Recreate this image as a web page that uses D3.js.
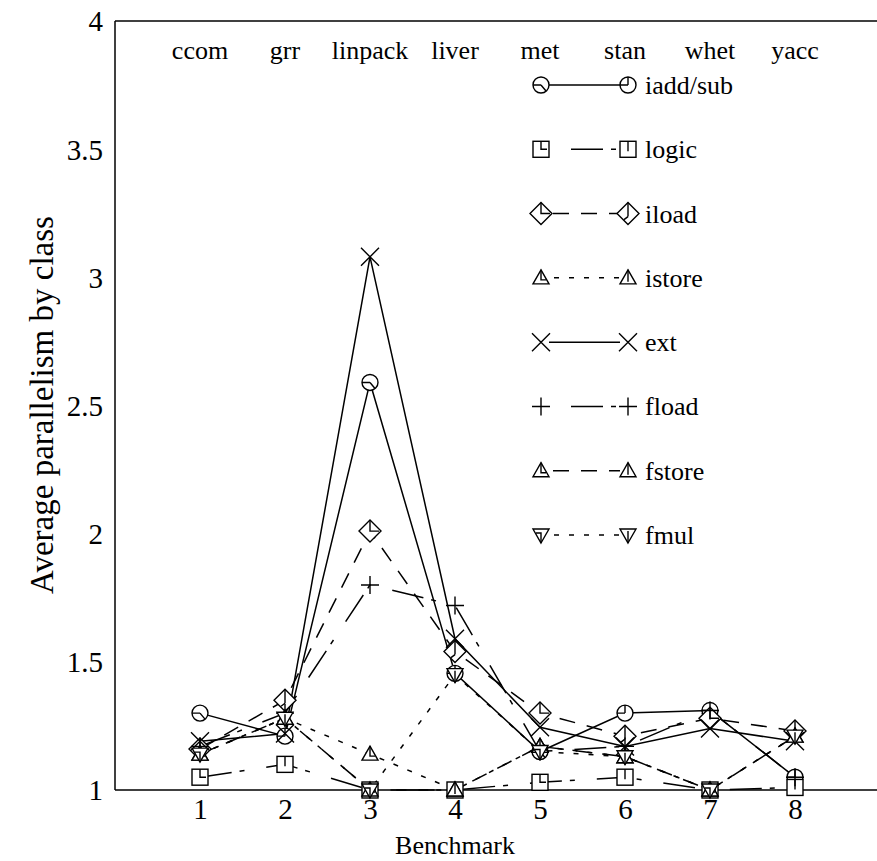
<!DOCTYPE html>
<html><head><meta charset="utf-8">
<script src="https://cdn.jsdelivr.net/npm/d3@7"></script>
<style>body{margin:0;background:#fff}svg{display:block}svg text{fill:#000}</style>
</head><body><svg id="c" width="877" height="861"></svg>
<script>
const benchmarks = [1,2,3,4,5,6,7,8];
const benchNames = ["ccom","grr","linpack","liver","met","stan","whet","yacc"];
const yTicks = [1,1.5,2,2.5,3,3.5,4];
const seriesNames = ["iadd/sub","logic","iload","istore","ext","fload","fstore","fmul"];
const iaddSub = [1.30,1.21,2.59,1.455,1.15,1.30,1.31,1.05];
const logic   = [1.05,1.10,1.00,1.00,1.03,1.05,1.00,1.01];
const iload   = [1.16,1.35,2.01,1.54,1.30,1.21,1.28,1.23];
const istore  = [1.14,1.28,1.14,1.00,1.17,1.13,1.00,1.21];
const ext     = [1.19,1.22,3.08,1.59,1.245,1.17,1.24,1.19];
const fload   = [1.17,1.30,1.80,1.72,1.15,1.17,1.31,1.05];
const fstore  = [1.14,1.28,1.00,1.00,1.17,1.13,1.00,1.21];
const fmul    = [1.14,1.28,1.00,1.45,1.15,1.13,1.00,1.21];
const seriesValues = [iaddSub,logic,iload,istore,ext,fload,fstore,fmul];
const markerTypes = ["circle","square","diamond","triangle","x","plus","triangle","triangleDown"];
const dashStyles = ["none","32,8,5,22","16,12","5,10","none","32,8,5,22","16,12","5,10"];
const legendOffsets = [0,45,-4,-5,0,45,-4,-5];

const FONT = "'Liberation Serif','Times New Roman',Times,serif";
const svg = d3.select("#c").attr("font-family", FONT);
const x = d3.scaleLinear().domain([0,9]).range([115,880]);
const y = d3.scaleLinear().domain([1,4]).range([790,21]);

// frame
svg.append("line").attr("x1",115).attr("x2",877).attr("y1",y(4)).attr("y2",y(4)).attr("stroke","#000").attr("stroke-width",1.5);
svg.append("line").attr("x1",115).attr("x2",115).attr("y1",y(4)).attr("y2",y(1)).attr("stroke","#000").attr("stroke-width",1.5);
svg.append("line").attr("x1",115).attr("x2",877).attr("y1",y(1)).attr("y2",y(1)).attr("stroke","#000").attr("stroke-width",1.5);

// axes labels (no tick marks)
const yAxis = d3.axisLeft(y).tickValues(yTicks).tickSize(0).tickPadding(12).tickFormat(d3.format("~g"));
const gy = svg.append("g").attr("transform","translate(115,0)").call(yAxis).attr("font-family",FONT).attr("font-size",29);
gy.select(".domain").remove();
gy.selectAll("text").attr("dy","0.34em");
const xAxis = d3.axisBottom(x).tickValues(benchmarks).tickSize(0).tickPadding(8).tickFormat(d3.format("d"));
const gx = svg.append("g").attr("transform","translate(0,790)").call(xAxis).attr("font-family",FONT).attr("font-size",29);
gx.select(".domain").remove();

svg.append("text").attr("x",455).attr("y",854).attr("text-anchor","middle").attr("font-size",26).text("Benchmark");
svg.append("text").attr("transform","translate(53,405) rotate(-90)").attr("text-anchor","middle").attr("font-size",33).text("Average parallelism by class");

// benchmark names
svg.selectAll("text.bn").data(benchNames).enter().append("text").attr("class","bn")
  .attr("x",(d,i)=>x(benchmarks[i])).attr("y",59).attr("text-anchor","middle").attr("font-size",26).text(d=>d);

function marker(g, type, cx, cy, flip){
  const s = g.append("g").attr("transform",`translate(${cx},${cy})`).attr("fill","none").attr("stroke","#000").attr("stroke-width",1.4);
  if(type==="circle"){
    s.append("circle").attr("r",8).attr("fill","#fff");
    s.append("path").attr("d", flip ? "M0,0V-8M0,0H-8" : "M0,0H-8M0,0L5,6");
  } else if(type==="square"){
    s.append("rect").attr("x",-8).attr("y",-8).attr("width",16).attr("height",16).attr("fill","#fff");
    s.append("path").attr("d", flip ? "M0,-8V2" : "M0,-8V0H6");
  } else if(type==="diamond"){
    s.append("path").attr("d","M0,-11L11,0L0,11L-11,0Z").attr("fill","#fff");
    s.append("path").attr("d", flip ? "M0,-11V3M0,3L-4,6" : "M0,-11V0H9");
  } else if(type==="triangle"){
    s.append("path").attr("d","M0,-8L8,6H-8Z").attr("fill","#fff");
    s.append("path").attr("d", flip ? "M0,-8V4" : "M0,-8V2H5");
  } else if(type==="triangleDown"){
    s.append("path").attr("d","M0,8L8,-6H-8Z").attr("fill","#fff");
    s.append("path").attr("d", flip ? "M0,8V-4" : "M0,8V-2H-5");
  } else if(type==="x"){
    s.append("path").attr("d","M-9,-9L9,9M-9,9L9,-9");
  } else if(type==="plus"){
    s.append("path").attr("d","M-9,0H9M0,-9V9");
  }
}

// lines
const lineGen = d3.line().x((d,i)=>x(benchmarks[i])).y(d=>y(d));
seriesValues.forEach((vals,k)=>{
  svg.append("path").attr("d",lineGen(vals)).attr("fill","none").attr("stroke","#000").attr("stroke-width",1.5)
    .attr("stroke-dasharray",dashStyles[k]);
});
seriesValues.forEach((vals,k)=>{
  const g = svg.append("g");
  vals.forEach((v,i)=>marker(g, markerTypes[k], x(benchmarks[i]), y(v), i%2===1));
});

// legend
const legY = d3.scalePoint().domain(seriesNames).range([85,535]);
seriesNames.forEach((n,k)=>{
  const ly = legY(n);
  const g = svg.append("g");
  g.append("line").attr("x1",549).attr("x2",620).attr("y1",ly).attr("y2",ly).attr("stroke","#000").attr("stroke-width",1.5)
    .attr("stroke-dasharray",dashStyles[k]).attr("stroke-dashoffset",legendOffsets[k]);
  marker(g, markerTypes[k], 541, ly, false);
  marker(g, markerTypes[k], 628, ly, true);
  g.append("text").attr("x",645).attr("y",ly+9).attr("font-size",26).text(n);
});
</script></body></html>
